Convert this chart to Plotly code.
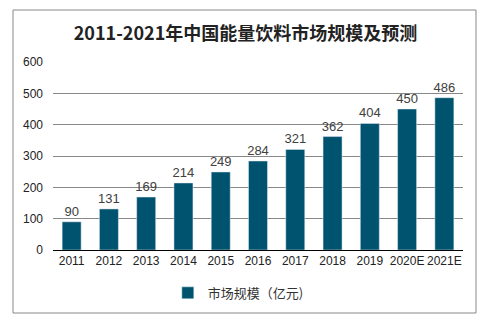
import plotly.graph_objects as go

years = ["2011", "2012", "2013", "2014", "2015", "2016", "2017", "2018", "2019", "2020E", "2021E"]
values = [90, 131, 169, 214, 249, 284, 321, 362, 404, 450, 486]
series_name = "市场规模（亿元)"
title = "2011-2021年中国能量饮料市场规模及预测"

fig = go.Figure()
fig.add_trace(go.Bar(
    x=years, y=values, name=series_name,
    marker=dict(color="#00536E"),
    text=[str(v) for v in values], textposition="outside",
    constraintext="none",
    textfont=dict(family="Liberation Sans, Arial", size=13, color="#404040"),
    cliponaxis=False,
))

fig.update_layout(
    width=494, height=323,
    margin=dict(l=53, r=31, t=62, b=73),
    paper_bgcolor="white", plot_bgcolor="white",
    title=dict(text="<b>" + title + "</b>", x=0.497, xanchor="center", y=0.895, yanchor="middle",
               font=dict(family="Noto Sans CJK SC", size=18, color="#222222")),
    bargap=0.49,
    showlegend=True,
    legend=dict(orientation="h", x=0.452, xanchor="center", y=-0.228, yanchor="middle",
                font=dict(family="Noto Sans CJK SC, Liberation Sans", size=13, color="#333333"),
                itemwidth=30),
    xaxis=dict(showgrid=False, showline=True, linecolor="#000000", linewidth=1,
               ticks="", tickfont=dict(family="Liberation Sans, Arial", size=12, color="#222222")),
    yaxis=dict(range=[0, 600], dtick=100, showgrid=True, gridcolor="#888888", gridwidth=1,
               zeroline=False, ticks="", ticklen=0, ticklabelstandoff=9,
               tickfont=dict(family="Liberation Sans, Arial", size=12, color="#222222")),
    shapes=[dict(type="rect", xref="paper", yref="paper",
                 x0=-40/410, x1=(476-53)/410, y0=-(313-250)/188, y1=(250-10)/188,
                 line=dict(color="#888888", width=1), fillcolor="rgba(0,0,0,0)", layer="below")],
    font=dict(family="Liberation Sans, Arial"),
)

fig.write_html("out.html")
